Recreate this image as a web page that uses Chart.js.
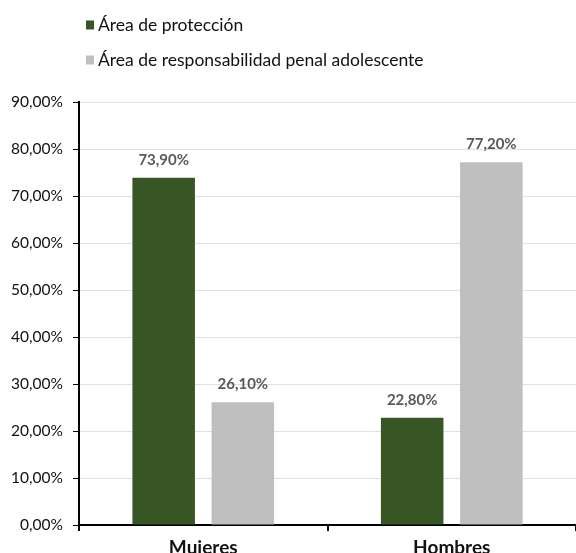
<!DOCTYPE html>
<html>
<head>
<meta charset="utf-8">
<script src="https://cdn.jsdelivr.net/npm/chart.js@4"></script>
<style>
  html, body { margin: 0; padding: 0; background: #fff; }
  #wrap { width: 576px; height: 553px; }
</style>
</head>
<body>
<div id="wrap"><canvas id="chart"></canvas></div>
<script>
const categories = ['Mujeres', 'Hombres'];
const seriesNames = ['Área de protección', 'Área de responsabilidad penal adolescente'];
const proteccion = [73.9, 22.8];
const responsabilidad = [26.1, 77.2];
const seriesColors = ['#375623', '#bfbfbf'];

const FONT = 'Lato, "Open Sans", sans-serif';

function pct(v) {
    return v.toFixed(2).replace('.', ',') + '%';
}

// leyenda vertical arriba a la izquierda
const legendPlugin = {
    id: 'legendVertical',
    afterDraw(chart) {
        const ctx = chart.ctx;
        ctx.save();
        ctx.font = '17.5px ' + FONT;
        ctx.textBaseline = 'middle';
        chart.data.datasets.forEach((ds, i) => {
            const y = 25 + i * 35;
            ctx.fillStyle = ds.backgroundColor;
            ctx.fillRect(86, y - 4.5, 8, 9);
            ctx.fillStyle = '#111';
            ctx.fillText(ds.label, 98, y);
        });
        ctx.restore();
    }
};

// etiquetas de valor sobre las barras
const valueLabels = {
    id: 'valueLabels',
    afterDatasetsDraw(chart) {
        const ctx = chart.ctx;
        ctx.save();
        ctx.font = 'bold 15px ' + FONT;
        ctx.fillStyle = '#595959';
        ctx.textAlign = 'center';
        ctx.textBaseline = 'middle';
        chart.data.datasets.forEach((ds, i) => {
            chart.getDatasetMeta(i).data.forEach((bar, j) => {
                ctx.fillText(pct(ds.data[j]), bar.x, bar.y - 18);
            });
        });
        ctx.restore();
    }
};

const chart = new Chart(document.getElementById('chart'), {
    type: 'bar',
    data: {
        labels: categories,
        datasets: [
            { label: seriesNames[0], data: proteccion, backgroundColor: seriesColors[0] },
            { label: seriesNames[1], data: responsabilidad, backgroundColor: seriesColors[1] }
        ]
    },
    options: {
        responsive: true,
        maintainAspectRatio: false,
        animation: false,
        categoryPercentage: 0.637,
        barPercentage: 0.79,
        layout: { padding: { top: 102, right: -8, bottom: 0, left: 0 } },
        plugins: {
            legend: { display: false },
            tooltip: { enabled: false }
        },
        scales: {
            x: {
                grid: {
                    drawOnChartArea: false,
                    drawTicks: true,
                    tickLength: 6,
                    tickColor: '#000',
                    lineWidth: 2
                },
                border: { color: '#000', width: 2 },
                ticks: {
                    color: '#111',
                    font: { family: FONT, size: 19, weight: 'bold' },
                    padding: 5
                },
                afterFit: function(scale) {
                    scale.height = 28;
                }
            },
            y: {
                min: 0,
                max: 90,
                grid: {
                    color: '#e0e0e0',
                    lineWidth: 1,
                    tickLength: 6,
                    tickColor: '#000'
                },
                border: { color: '#000', width: 2 },
                ticks: {
                    stepSize: 10,
                    color: '#111',
                    padding: 10,
                    font: { family: FONT, size: 15.5 },
                    callback: function(value) {
                        return pct(value);
                    }
                },
                afterFit: function(scale) {
                    scale.width = 79;
                }
            }
        }
    },
    plugins: [legendPlugin, valueLabels]
});
</script>
</body>
</html>
